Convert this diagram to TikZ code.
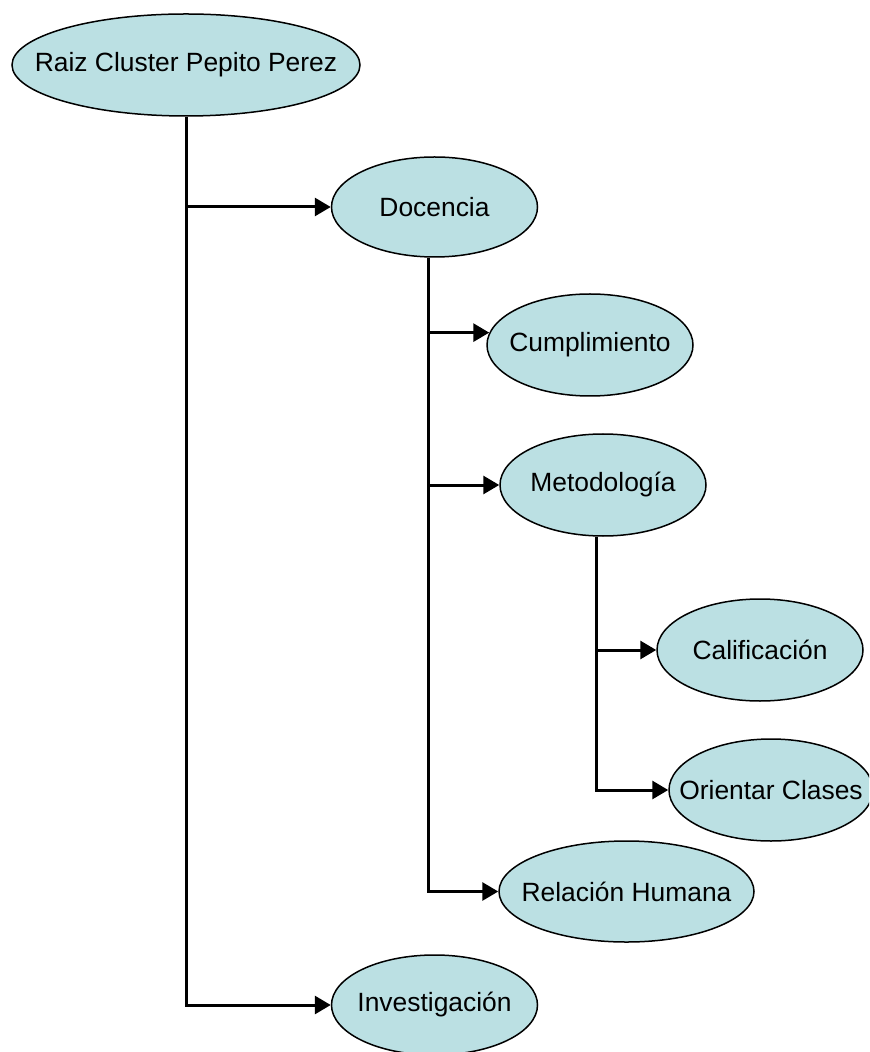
\documentclass[tikz,border=0pt]{standalone}
\usepackage{fontspec}
\setmainfont{Liberation Sans}
\usetikzlibrary{shapes.geometric,arrows.meta}
\definecolor{conceptfill}{RGB}{187,224,227}
\tikzset{
  concept/.style={ellipse, draw, line width=0.75pt, fill=conceptfill, inner sep=0pt,
    minimum width=103pt, minimum height=51pt, font=\fontsize{13.2}{16}\selectfont,
    execute at begin node={\hbox to 0pt\bgroup\hss},
    execute at end node={\hss\egroup}},
  branch/.style={line width=1.5pt},
  link/.style={branch, -{Triangle[length=8pt,width=9pt]}}
}

\begin{document}
\begin{tikzpicture}[x=0.5pt,y=-0.5pt]
  \useasboundingbox (0,0) rectangle (869,1052);
  \clip (0,0) rectangle (869,1052);
  \node [concept, minimum width=174pt] (root) at (186,65) {Raiz Cluster Pepito Perez};
  \node [concept, minimum height=50pt] (doc) at (434.5,207) {Docencia};
  \node [concept] (cump) at (590,345) {Cumplimiento};
  \node [concept] (met) at (603,485) {Metodología};
  \node [concept] (cal) at (760,650) {Calificación};
  \node [concept, minimum width=102pt] (ori) at (771,790) {Orientar Clases};
  \node [concept, minimum width=127.5pt, minimum height=50.5pt] (rel) at (626.5,891.5) {Relación Humana};
  \node [concept, minimum height=50pt] (inv) at (434.5,1005) {Investigación};
  \draw [link] (root.south) |- (inv.west);
  \draw [link] (root.south |- doc.west) -- (doc.west);
  \draw [link] (doc.263) |- (rel.west);
  \draw [link] (doc.263 |- cump.173) -- (cump.173);
  \draw [link] (doc.263 |- met.west) -- (met.west);
  \draw [link] (met.263) |- (ori.west);
  \draw [link] (met.263 |- cal.west) -- (cal.west);
\end{tikzpicture}
\end{document}
